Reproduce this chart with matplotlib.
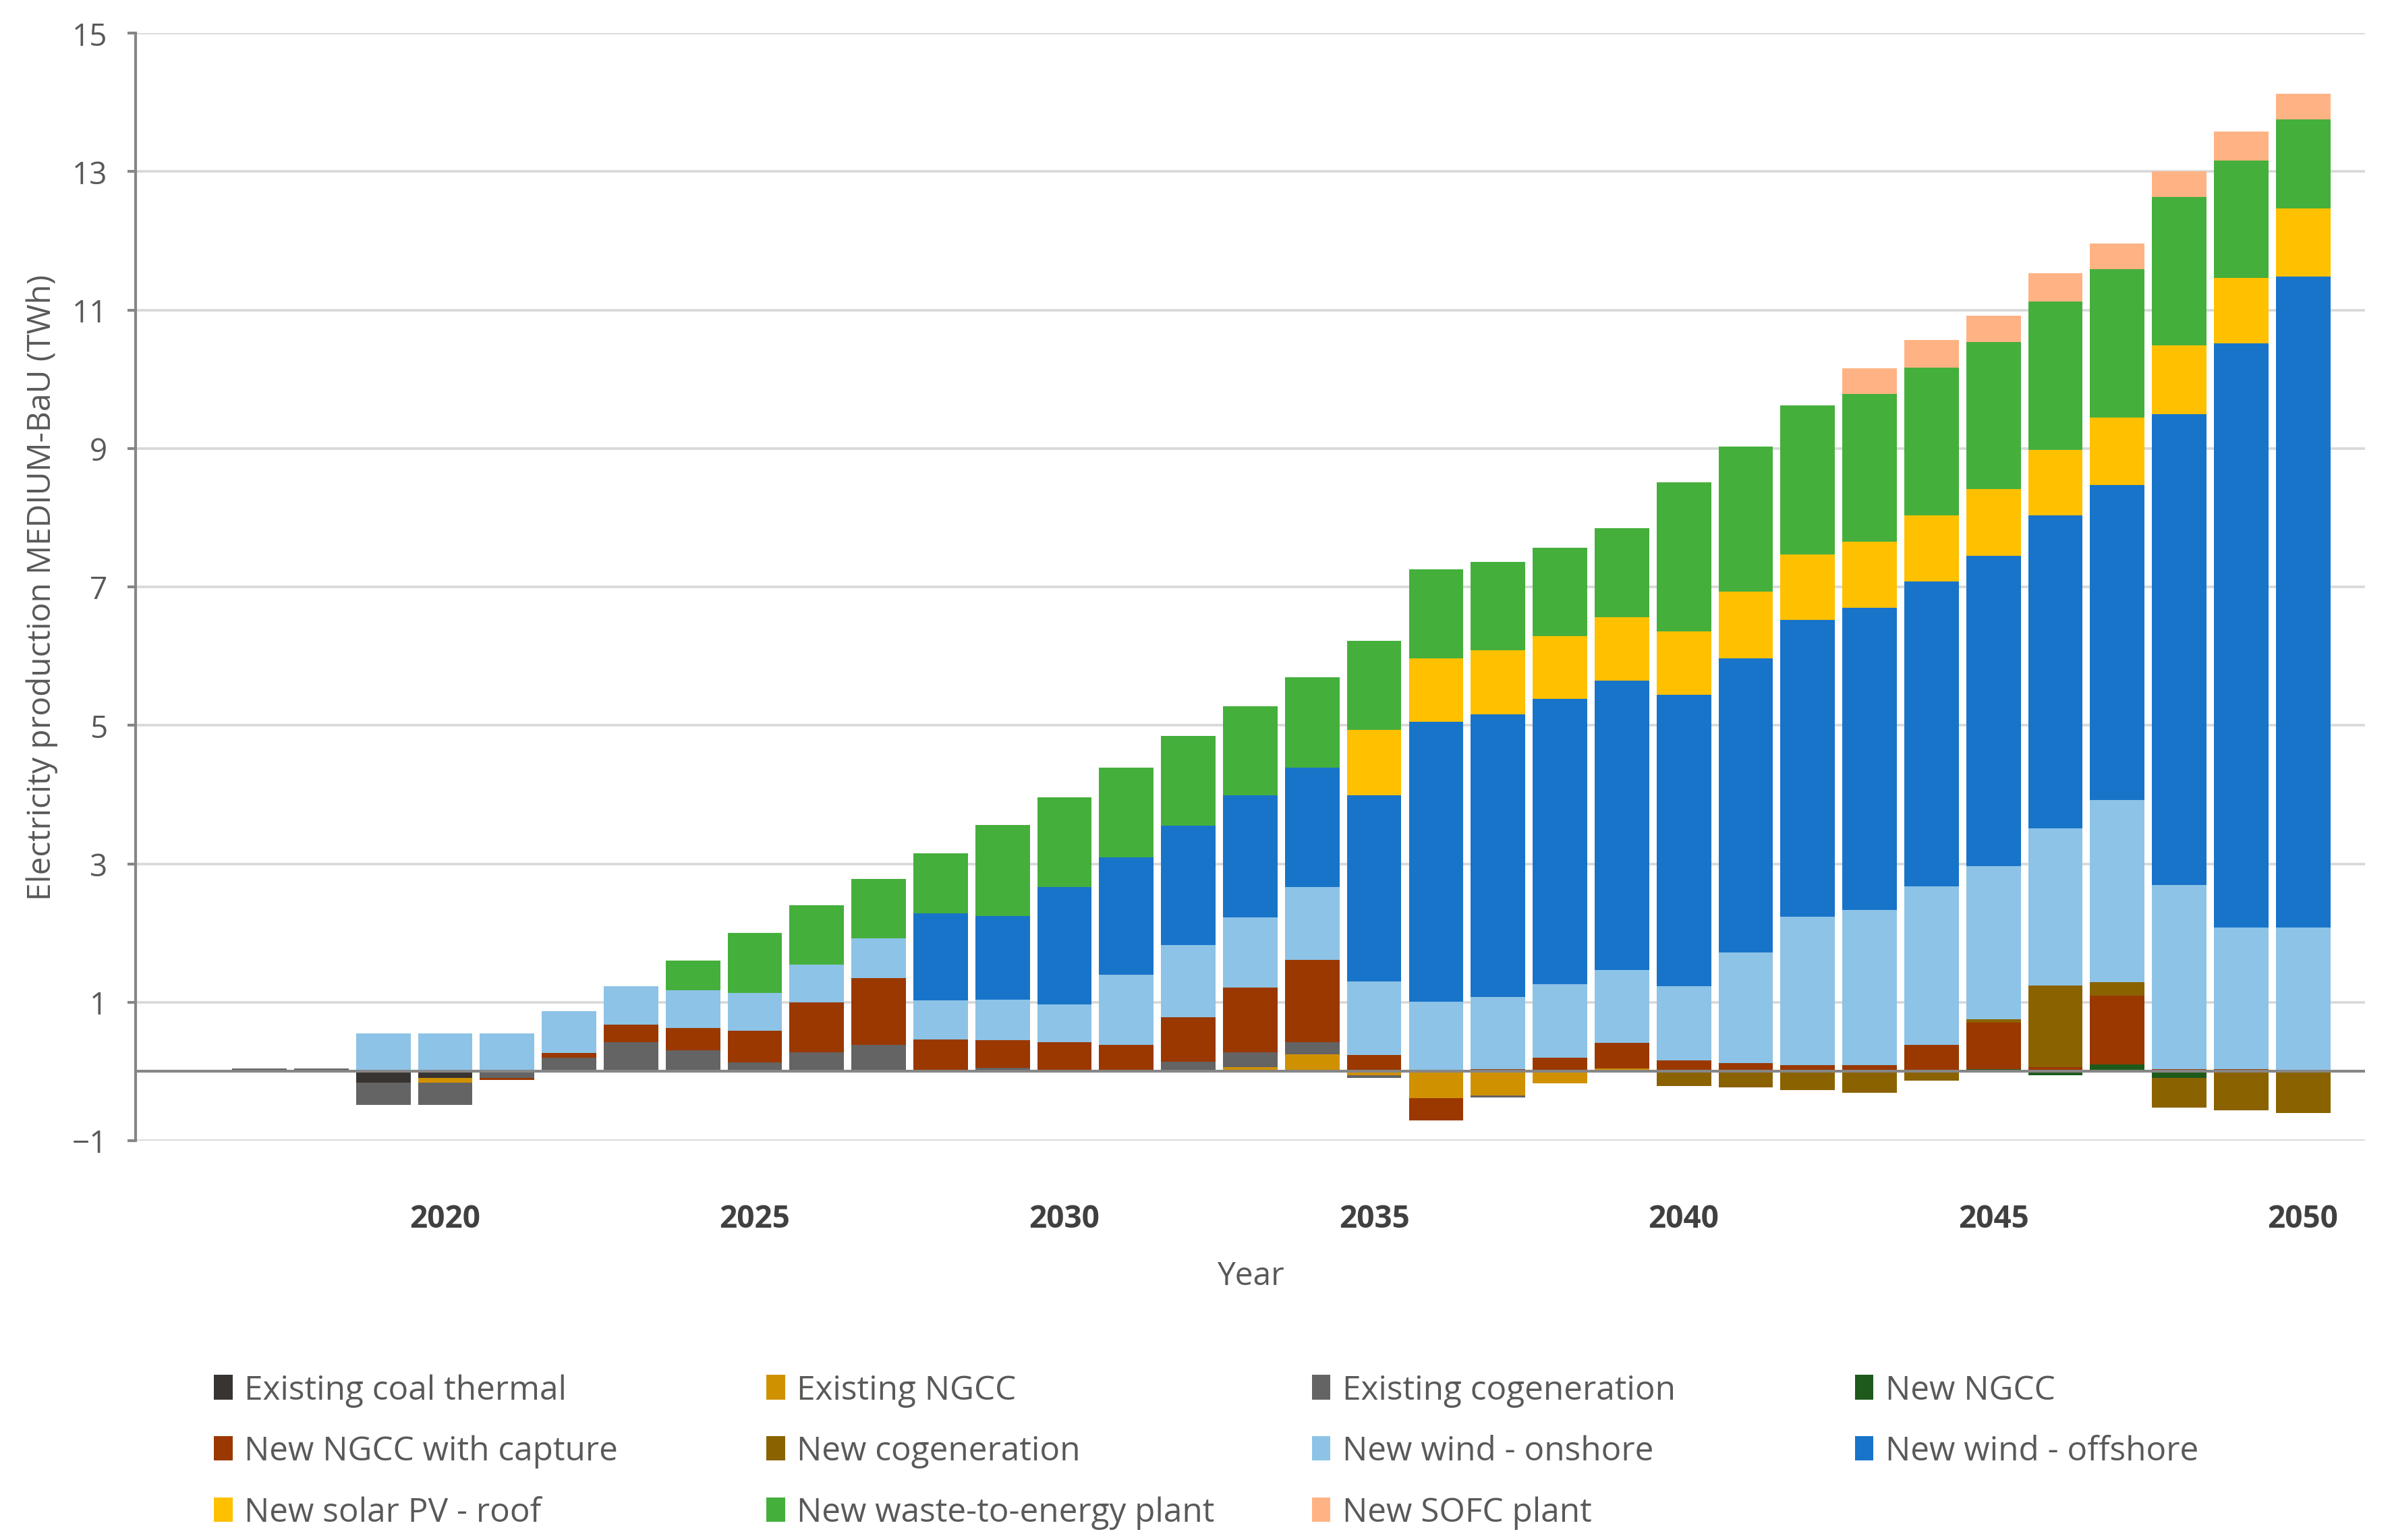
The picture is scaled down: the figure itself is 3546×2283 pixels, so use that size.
import numpy as np
import matplotlib.pyplot as plt

plt.rcParams['font.family'] = ['Open Sans', 'DejaVu Sans']

years = np.arange(2017, 2051)

# TWh per technology, 2017..2050
coal = [0, 0, -0.16, -0.09] + [0] * 30
ex_ngcc = [0, 0, 0, -0.07, 0, 0, 0, 0, 0, 0, 0, 0, 0, 0, 0, 0, 0.065, 0.25, -0.05, -0.39,
           -0.35, -0.17, 0.04, 0, 0, 0, 0, 0, 0, 0, 0, 0, 0, 0]
ex_cog = [0.04, 0.04, -0.32, -0.32, -0.09, 0.2, 0.42, 0.31, 0.13, 0.28, 0.38, 0, 0.05, 0, 0, 0.14, 0.21, 0.17, -0.04, 0,
          -0.03, 0, 0, 0, 0, 0, 0, 0, 0, 0, 0, 0, 0, 0]
new_ngcc = [0] * 28 + [0.03, -0.05, 0.1, -0.09, 0, 0]
ngcc_cap = [0, 0, 0, 0, -0.03, 0.07, 0.26, 0.32, 0.46, 0.72, 0.97, 0.46, 0.40, 0.42, 0.38, 0.64, 0.935, 1.19, 0.24, -0.32,
            0.03, 0.2, 0.37, 0.16, 0.12, 0.09, 0.09, 0.38, 0.68, 0.06, 1.0, 0.03, 0.03, 0]
new_cog = [0] * 23 + [-0.21, -0.23, -0.27, -0.31, -0.13, 0.04, 1.18, 0.19, -0.43, -0.56, -0.60]
wind_on = [0, 0, 0.55, 0.55, 0.55, 0.6, 0.55, 0.54, 0.54, 0.54, 0.57, 0.57, 0.59, 0.55, 1.02, 1.05, 1.02, 1.05, 1.06, 1.01,
           1.05, 1.06, 1.06, 1.07, 1.6, 2.15, 2.24, 2.29, 2.22, 2.27, 2.63, 2.66, 2.05, 2.08]
wind_off = [0] * 11 + [1.25, 1.21, 1.69, 1.69, 1.72, 1.76, 1.73, 2.69, 4.04, 4.08, 4.12, 4.18, 4.21, 4.25, 4.28, 4.37,
                       4.41, 4.48, 4.52, 4.55, 6.81, 8.44, 9.40]
solar = [0] * 18 + [0.94, 0.92, 0.92, 0.91, 0.91, 0.92, 0.96, 0.95, 0.95, 0.95, 0.96, 0.95, 0.98, 0.99, 0.94, 0.99]
waste = [0] * 7 + [0.43, 0.87, 0.86, 0.86, 0.87, 1.31, 1.30, 1.30, 1.30, 1.29, 1.30, 1.29, 1.28, 1.28, 1.28, 1.29, 2.15,
                   2.10, 2.15, 2.14, 2.14, 2.13, 2.14, 2.14, 2.14, 1.70, 1.28]
sofc = [0] * 26 + [0.37, 0.40, 0.38, 0.41, 0.37, 0.37, 0.42, 0.37]

names = ['Existing coal thermal', 'Existing NGCC', 'Existing cogeneration', 'New NGCC',
         'New NGCC with capture', 'New cogeneration', 'New wind - onshore', 'New wind - offshore',
         'New solar PV - roof', 'New waste-to-energy plant', 'New SOFC plant']
series = [coal, ex_ngcc, ex_cog, new_ngcc, ngcc_cap, new_cog, wind_on, wind_off, solar, waste, sofc]
colors = ['#383431', '#D09100', '#646464', '#1E5A1B', '#9A3800', '#8B6200',
          '#8DC3E6', '#1874C9', '#FFC000', '#45AF3C', '#FFB384']

fig = plt.figure(figsize=(11.82, 7.613), dpi=300)
ax = fig.add_axes([0.0567, 0.2592, 0.932, 0.7189])

pos_base = np.zeros(len(years))
neg_base = np.zeros(len(years))
handles = []
for vals, name, col in zip(series, names, colors):
    v = np.array(vals, dtype=float)
    base = np.where(v >= 0, pos_base, neg_base)
    b = ax.bar(years, v, bottom=base, width=0.88, color=col, label=name, zorder=3)
    handles.append(b)
    pos_base += np.clip(v, 0, None)
    neg_base += np.clip(v, None, 0)

ax.axhline(0, color='#868686', lw=1.0, zorder=4)

ax.set_xlim(2015, 2051)
ax.set_ylim(-1, 15)
ax.set_yticks(np.arange(-1, 16, 2))
ax.yaxis.grid(True, color='#D9D9D9', lw=0.9, zorder=0)
ax.set_xticks(np.arange(2020, 2051, 5))
ax.tick_params(axis='x', length=0, pad=22, labelsize=11, labelcolor='#404040')
for t in ax.get_xticklabels():
    t.set_fontweight('bold')
ax.tick_params(axis='y', length=3, width=1.0, color='#868686', labelsize=11, labelcolor='#595959', pad=7)
for s in ['top', 'right', 'bottom']:
    ax.spines[s].set_visible(False)
ax.spines['left'].set_color('#868686')
ax.spines['left'].set_linewidth(1.0)

ax.set_xlabel('Year', fontsize=11.5, color='#595959', labelpad=9)
ax.set_ylabel('Electricity production MEDIUM-BaU (TWh)', fontsize=11.5, color='#595959', labelpad=5)

# legend: four columns placed like the original
cols = [[0, 4, 8], [1, 5, 9], [2, 6, 10], [3, 7]]
col_x = [0.0895, 0.3205, 0.5485, 0.7755]
for cx, idx in zip(col_x, cols):
    fig.legend([handles[i] for i in idx], [names[i] for i in idx], loc='upper left',
               bbox_to_anchor=(cx, 0.108), frameon=False, fontsize=11.9,
               handlelength=0.55, handleheight=0.75, handletextpad=0.35, labelspacing=0.83,
               borderaxespad=0, borderpad=0, labelcolor='#595959')

fig.savefig('out.png', dpi=300, facecolor='white')
